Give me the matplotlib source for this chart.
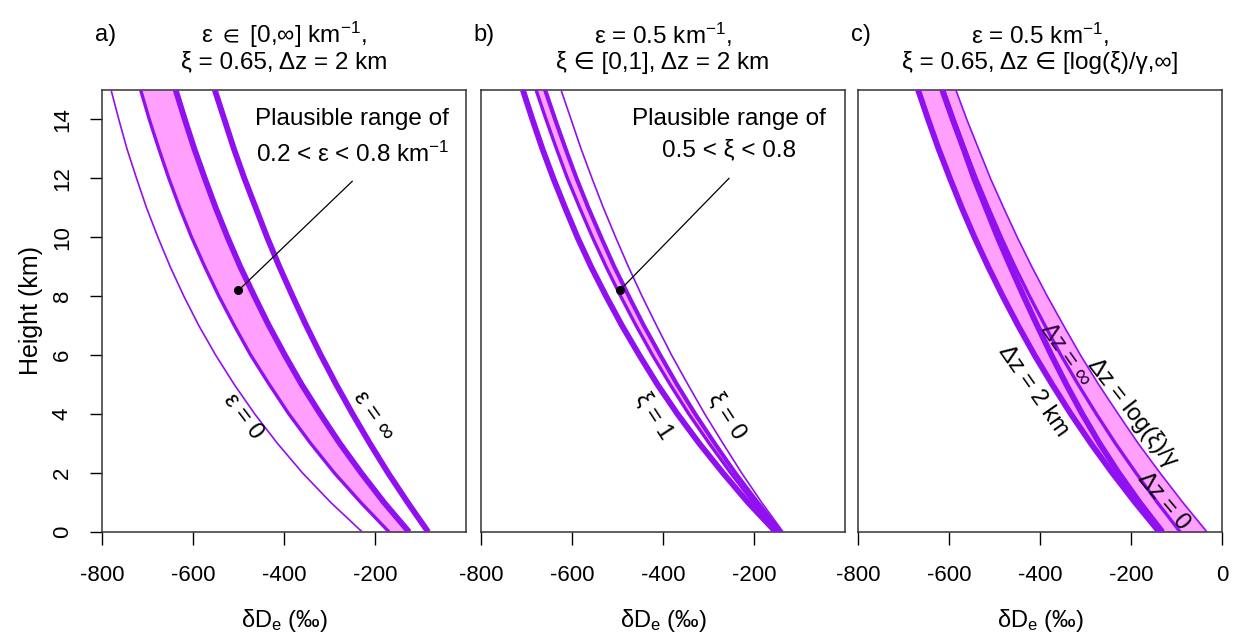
import matplotlib
matplotlib.use("Agg")
import matplotlib.pyplot as plt

plt.rcParams["font.family"] = ["Liberation Sans", "DejaVu Sans"]
plt.rcParams["mathtext.fontset"] = "custom"
plt.rcParams["mathtext.rm"] = "Liberation Sans"
plt.rcParams["mathtext.it"] = "Liberation Sans:italic"
plt.rcParams["mathtext.fallback"] = "stixsans"

PURPLE = "#9010f0"
PINK = "#ffa0ff"

heights = list(range(16))  # km

# a) eps varied, xi = 0.65, dz = 2 km
a_eps0 = [-228, -297, -359, -414, -464, -509, -550, -587, -620, -650, -677, -702, -724, -745, -763, -780]
a_eps02 = [-169, -231, -289, -341, -389, -432, -473, -509, -543, -574, -603, -629, -653, -675, -696, -715]
a_eps08 = [-125, -180, -230, -277, -320, -361, -398, -433, -465, -496, -524, -550, -574, -597, -618, -638]
a_epsinf = [-83, -128, -171, -211, -249, -285, -319, -351, -381, -410, -437, -462, -487, -510, -531, -552]

# b) eps = 0.5, xi varied
b_xi1 = [-152, -213, -268, -320, -368, -412, -452, -490, -525, -558, -588, -615, -641, -665, -687, -708]
b_xi08 = [-147, -201, -251, -298, -343, -384, -423, -459, -493, -525, -555, -583, -610, -634, -657, -679]
b_xi05 = [-141, -192, -241, -286, -329, -369, -406, -442, -475, -507, -536, -564, -590, -614, -637, -659]
b_xi0 = [-136, -183, -227, -268, -308, -345, -381, -414, -446, -476, -504, -531, -556, -580, -602, -624]

# c) eps = 0.5, xi = 0.65, dz varied
c_dzinf = [-138, -191, -241, -288, -332, -373, -412, -448, -482, -514, -544, -572, -598, -623, -646, -668]
c_dz2 = [-131, -181, -227, -269, -307, -342, -375, -406, -436, -465, -493, -519, -545, -568, -592, -615]
c_dz0 = [-92, -142, -189, -234, -276, -316, -354, -389, -423, -455, -485, -513, -540, -565, -589, -612]
c_dzlog = [-33, -86, -136, -184, -228, -271, -311, -348, -384, -418, -450, -480, -509, -535, -561, -585]

a_dot = (-500, 8.2)
b_dot = (-495, 8.2)

titles = [
    ("a)", r"ε ${\in}$ [0,∞] km$^{-1}$,", "ξ = 0.65, Δz = 2 km"),
    ("b)", "ε = 0.5 km$^{-1}$,", "ξ ∈ [0,1], Δz = 2 km"),
    ("c)", "ε = 0.5 km$^{-1}$,", "ξ = 0.65, Δz ∈ [log(ξ)/γ,∞]"),
]

fig = plt.figure(figsize=(12.33, 6.34), dpi=100)
lefts = [0.0827, 0.3901, 0.6959]
axes = [fig.add_axes([l, 0.1609, 0.2952, 0.6972]) for l in lefts]


def curve(ax, xs, lw):
    ax.plot(xs, heights, color=PURPLE, lw=lw, solid_capstyle="butt",
            solid_joinstyle="round", zorder=3)


def rot_label(ax, x, y, s, angle, color="black"):
    ax.text(x, y, s, rotation=angle, rotation_mode="anchor", ha="center",
            va="center", fontsize=17, color=color, zorder=5)


for i, ax in enumerate(axes):
    ax.set_xlim(-800, 0)
    ax.set_ylim(0, 15)
    ticks = [-800, -600, -400, -200] if i < 2 else [-800, -600, -400, -200, 0]
    ax.set_xticks(ticks)
    ax.set_xticklabels([str(t) for t in ticks])
    ax.tick_params(axis="x", length=9, width=1, direction="out", pad=15,
                   labelsize=16)
    if i == 0:
        ax.set_yticks(range(0, 15, 2))
        ax.tick_params(axis="y", length=9, width=1, direction="out", pad=12,
                       labelsize=16)
        for lab in ax.get_yticklabels():
            lab.set_rotation(90)
            lab.set_va("center")
        ax.set_ylabel("Height (km)", fontsize=18, labelpad=6)
    else:
        ax.set_yticks([])
    for sp in ax.spines.values():
        sp.set_linewidth(1.1)
        sp.set_color("#333333")
    ax.set_xlabel(r"δD$_\mathrm{e}$ (‰)", fontsize=17, labelpad=15)
    letter, line1, line2 = titles[i]
    ax.text(-0.02, 1.124, letter, transform=ax.transAxes, fontsize=17,
            ha="left", va="center")
    ax.text(0.5, 1.124, line1, transform=ax.transAxes, fontsize=17.5,
            ha="center", va="center")
    ax.text(0.5, 1.062, line2, transform=ax.transAxes, fontsize=17.5,
            ha="center", va="center")

# a)
ax = axes[0]
ax.fill_betweenx(heights, a_eps02, a_eps08, color=PINK, lw=0, zorder=2)
curve(ax, a_eps0, 1.2)
curve(ax, a_eps02, 2.4)
curve(ax, a_eps08, 4.2)
curve(ax, a_epsinf, 4.2)
ax.plot([a_dot[0], -250], [a_dot[1], 11.9], color="black", lw=0.9, zorder=4)
ax.plot(*a_dot, "o", color="black", ms=5.5, zorder=6)
ax.text(-250, 14.0, "Plausible range of", ha="center", va="center", fontsize=17.5)
ax.text(-250, 12.8, "0.2 < ε < 0.8 km$^{-1}$", ha="center", va="center", fontsize=17.5)
rot_label(ax, -490, 3.9, "ε = 0", -53)
rot_label(ax, -204, 3.95, "ε = ∞", -55)

# b)
ax = axes[1]
ax.fill_betweenx(heights, b_xi08, b_xi05, color=PINK, lw=0, zorder=2)
curve(ax, b_xi1, 4.2)
curve(ax, b_xi08, 2.4)
curve(ax, b_xi05, 3.0)
curve(ax, b_xi0, 1.2)
ax.plot([b_dot[0], -255], [b_dot[1], 12.0], color="black", lw=0.9, zorder=4)
ax.plot(*b_dot, "o", color="black", ms=5.5, zorder=6)
ax.text(-255, 14.0, "Plausible range of", ha="center", va="center", fontsize=17.5)
ax.text(-255, 12.95, "0.5 < ξ < 0.8", ha="center", va="center", fontsize=17.5)
rot_label(ax, -420, 3.95, "ξ = 1", -57)
rot_label(ax, -259, 3.95, "ξ = 0", -57)

# c)
ax = axes[2]
ax.fill_betweenx(heights, c_dzinf, c_dzlog, color=PINK, lw=0, zorder=2)
curve(ax, c_dzinf, 4.2)
curve(ax, c_dz2, 4.2)
curve(ax, c_dz0, 2.4)
curve(ax, c_dzlog, 1.2)
rot_label(ax, -415, 4.8, "Δz = 2 km", -55)
rot_label(ax, -345, 6.0, "Δz = ∞", -55, color="#2a0040")
rot_label(ax, -196, 4.05, "Δz = log(ξ)/γ", -52)
rot_label(ax, -130, 1.05, "Δz = 0", -50)

fig.savefig("out.png", dpi=100)
